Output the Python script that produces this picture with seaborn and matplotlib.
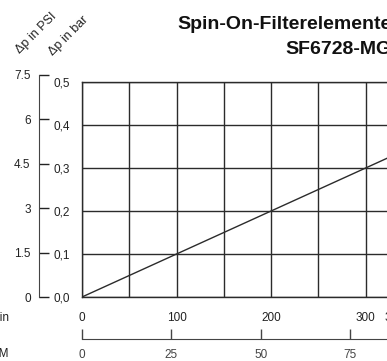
import matplotlib
matplotlib.use("Agg")
import matplotlib.pyplot as plt
import seaborn as sns
from matplotlib.ticker import FuncFormatter

# Daten
flow_lpm = [0, 100, 200, 300, 330]
dp_bar = [0.0, 0.1, 0.2, 0.3, 0.33]
lpm_ticks = [0, 100, 200, 300, 330]
gpm_ticks = [0, 25, 50, 75, 87]
bar_ticks = [0.0, 0.1, 0.2, 0.3, 0.4, 0.5]
psi_ticks = [0, 1.5, 3, 4.5, 6, 7.5]
psi_labels = ["0", "1.5", "3", "4.5", "6", "7.5"]

sns.set_style("white")
plt.rcParams["font.family"] = ["Liberation Sans Narrow", "Liberation Sans", "DejaVu Sans"]

W, H = 387, 361
fig = plt.figure(figsize=(W / 100, H / 100), dpi=100)

# Hauptachse (rechts abgeschnitten wie im Original)
x0, x1, y_top, y_bot = 82, 394, 82, 297
ax = fig.add_axes([x0 / W, 1 - y_bot / H, (x1 - x0) / W, (y_bot - y_top) / H])

line_col = "#2b2b2b"
sns.lineplot(x=flow_lpm, y=dp_bar, ax=ax, color=line_col, linewidth=1.0)

ax.set_xlim(0, 330)
ax.set_ylim(0, 0.5)
ax.set_xticks(lpm_ticks)
ax.set_yticks(bar_ticks)
ax.yaxis.set_major_formatter(FuncFormatter(lambda v, p: f"{v:.1f}".replace(".", ",")))
for v in range(0, 331, 50):
    ax.axvline(v, color=line_col, lw=1.0, zorder=1)
for v in bar_ticks:
    ax.axhline(v, color=line_col, lw=1.0, zorder=1)
for s in ax.spines.values():
    s.set_color(line_col)
    s.set_linewidth(1.0)
ax.tick_params(axis="y", length=0, pad=9, labelsize=8.5, colors="#222222")
ax.tick_params(axis="x", length=0, pad=11, labelsize=8.5, colors="#222222")
ax.set_xlabel("")
ax.set_ylabel("")

# PSI-Achse links (eigene Achse, 1 bar = 14.5038 psi)
px_per_bar = (y_bot - y_top) / 0.5
psi_top = y_bot - 7.5 / 14.5038 * px_per_bar
psi_ax = fig.add_axes([39 / W, 1 - y_bot / H, 1 / W, (y_bot - psi_top) / H])
psi_ax.set_ylim(0, 7.5)
psi_ax.set_xticks([])
psi_ax.set_yticks(psi_ticks)
psi_ax.set_yticklabels(psi_labels)
psi_ax.patch.set_visible(False)
for k in ["top", "right", "bottom"]:
    psi_ax.spines[k].set_visible(False)
psi_ax.spines["left"].set_color("#444444")
psi_ax.tick_params(axis="y", direction="in", length=7, width=1, pad=6, labelsize=8.5,
                   colors="#222222", left=True)

# US GPM-Achse unten
gpm = ax.secondary_xaxis(-(339 - y_bot) / (y_bot - y_top), functions=(lambda q: q / 3.785, lambda g: g * 3.785))
gpm.set_xticks(gpm_ticks)
gpm.tick_params(direction="in", length=7, width=1, pad=7, labelsize=8.5, colors="#444444")
gpm.spines["bottom"].set_color("#444444")

# Beschriftungen
fig.text(9 / W, 1 - 318 / H, "l/min", ha="right", va="center", fontsize=8.5, color="#222222")
fig.text(9 / W, 1 - 354 / H, "US GPM", ha="right", va="center", fontsize=8.5, color="#222222")
fig.text(36 / W, 1 - 33 / H, "Δp in PSI", rotation=45, ha="center", va="center", fontsize=9, color="#222222")
fig.text(69 / W, 1 - 36 / H, "Δp in bar", rotation=45, ha="center", va="center", fontsize=9, color="#222222")

fig.text(392 / W, 1 - 29 / H, "Spin-On-Filterelemente", ha="right", va="baseline",
         fontsize=14, fontweight="bold", color="#111111")
fig.text(392 / W, 1 - 54 / H, "SF6728-MG", ha="right", va="baseline",
         fontsize=14, fontweight="bold", color="#111111")

fig.savefig("out.png", dpi=100)
